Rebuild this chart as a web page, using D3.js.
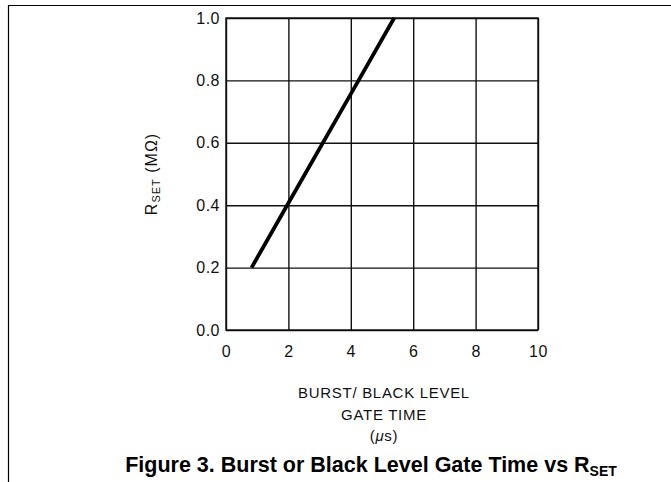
<!DOCTYPE html>
<html>
<head>
<meta charset="utf-8">
<script src="https://cdn.jsdelivr.net/npm/d3@7"></script>
<style>
  body { margin: 0; background: #fff; }
  svg { display: block; }
  .tick text { font-family: "Liberation Sans", Arial, sans-serif; font-size: 16px; fill: #111; letter-spacing: 0.5px; }
  .lbl { font-family: "Liberation Sans", Arial, sans-serif; font-size: 15px; fill: #111; letter-spacing: 0.7px; }
  .cap { font-family: "Liberation Sans", Arial, sans-serif; font-size: 21.5px; font-weight: bold; fill: #000; }
</style>
</head>
<body>
<div id="vis"></div>
<script>
// values
var gateTime = [0.82, 1.96, 4.25, 5.39];   // µs
var rset = [0.2, 0.4, 0.8, 1.0];           // MΩ
var xTicks = [0, 2, 4, 6, 8, 10];
var yTicks = [0.0, 0.2, 0.4, 0.6, 0.8, 1.0];
var xTitle = ['BURST/ BLACK LEVEL', 'GATE TIME'];

var width = 671, height = 482;
var margin = { top: 18, left: 226 };
var plotW = 312, plotH = 312;

var svg = d3.select('#vis').append('svg')
  .attr('width', width)
  .attr('height', height);

// page frame (top rule + left rule)
svg.append('line').attr('x1', 8).attr('x2', width).attr('y1', 5.5).attr('y2', 5.5)
  .attr('stroke', '#000').attr('stroke-width', 1.2);
svg.append('line').attr('x1', 8.5).attr('x2', 8.5).attr('y1', 5).attr('y2', height)
  .attr('stroke', '#000').attr('stroke-width', 1.2);

var x = d3.scaleLinear().domain([0, 10]).range([0, plotW]);
var y = d3.scaleLinear().domain([0, 1]).range([plotH, 0]);

var g = svg.append('g').attr('transform', 'translate(' + margin.left + ',' + margin.top + ')');

g.append('g')
  .attr('transform', 'translate(0,' + plotH + ')')
  .call(d3.axisBottom(x).tickValues(xTicks).tickSize(-plotH).tickPadding(16).tickFormat(d3.format('d')))
  .call(function (a) { a.select('.domain').remove(); });

g.append('g')
  .call(d3.axisLeft(y).tickValues(yTicks).tickSize(-plotW).tickPadding(6).tickFormat(d3.format('.1f')))
  .call(function (a) { a.select('.domain').remove(); });

g.selectAll('.tick line').attr('stroke', '#111').attr('stroke-width', 1.4);

g.append('rect')
  .attr('width', plotW).attr('height', plotH)
  .attr('fill', 'none').attr('stroke', '#111').attr('stroke-width', 1.4);

var line = d3.line()
  .x(function (d, i) { return x(gateTime[i]); })
  .y(function (d) { return y(d); });

g.append('path')
  .datum(rset)
  .attr('d', line)
  .attr('fill', 'none')
  .attr('stroke', '#000')
  .attr('stroke-width', 3.8);

// x title
var cx = 384;
svg.selectAll('.xt').data(xTitle).enter().append('text')
  .attr('class', 'lbl')
  .attr('x', cx)
  .attr('y', function (d, i) { return 398 + i * 22; })
  .attr('text-anchor', 'middle')
  .text(function (d) { return d; });

var unit = svg.append('text').attr('class', 'lbl')
  .attr('x', cx).attr('y', 441).attr('text-anchor', 'middle');
unit.append('tspan').text('(');
unit.append('tspan').style('font-style', 'italic').text('\u03bc');
unit.append('tspan').text('s)');

// y title
var yt = svg.append('text').attr('class', 'lbl')
  .attr('transform', 'translate(157,174) rotate(-90)')
  .attr('text-anchor', 'middle')
  .style('font-size', '16px')
  .style('letter-spacing', '1px');
yt.append('tspan').text('R');
yt.append('tspan').attr('dy', 3).style('font-size', '11px').text('SET');
yt.append('tspan').attr('dy', -3).text(' (M\u03a9)');

// caption
var cap = svg.append('text').attr('class', 'cap')
  .attr('x', 371).attr('y', 472).attr('text-anchor', 'middle');
cap.append('tspan').text('Figure 3. Burst or Black Level Gate Time vs R');
cap.append('tspan').attr('dy', 4).style('font-size', '14px').text('SET');
</script>
</body>
</html>
